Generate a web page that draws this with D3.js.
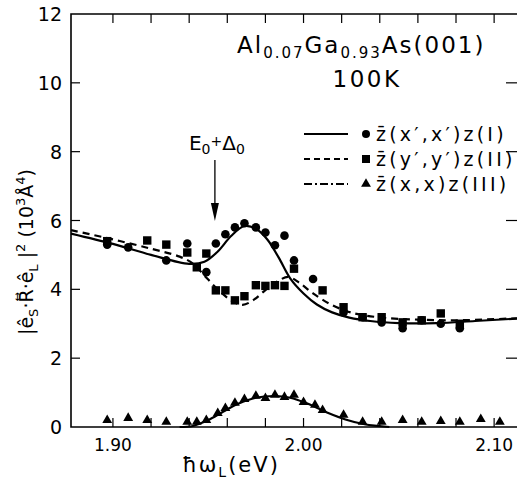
<!DOCTYPE html>
<html>
<head>
<script src="https://d3js.org/d3.v7.min.js"></script>
<style>
  body { margin: 0; background: #fff; }
  text { font-family: "DejaVu Sans", sans-serif; fill: #000; }
</style>
</head>
<body>
<svg width="517" height="481" id="chart"></svg>
<script>
// photon energy (eV) / intensity (10^3 A^4)
var fitI = [[1.878,5.62],[1.90,5.32],[1.92,5.0],[1.94,4.74],[1.948,4.8],[1.955,5.1],[1.962,5.55],[1.969,5.84],[1.975,5.76],[1.981,5.45],[1.987,4.92],[1.993,4.32],[2.000,3.88],[2.007,3.56],[2.015,3.33],[2.024,3.18],[2.035,3.08],[2.05,3.02],[2.07,3.02],[2.09,3.08],[2.112,3.15]]
var fitII = [[1.878,5.72],[1.90,5.45],[1.92,5.18],[1.935,4.95],[1.942,4.75],[1.948,4.4],[1.955,4.0],[1.962,3.68],[1.968,3.55],[1.974,3.7],[1.98,3.98],[1.986,4.22],[1.992,4.36],[1.998,4.18],[2.005,3.88],[2.014,3.57],[2.022,3.38],[2.03,3.26],[2.045,3.16],[2.06,3.12],[2.08,3.1],[2.112,3.16]]
var fitIII = [[1.935,0],[1.942,0.03],[1.95,0.2],[1.958,0.45],[1.966,0.68],[1.975,0.85],[1.985,0.9],[1.993,0.85],[2.002,0.68],[2.012,0.43],[2.022,0.22],[2.032,0.08],[2.045,0]]

var ptsI = [[1.897,5.3],[1.908,5.22],[1.928,4.84],[1.939,5.33],[1.949,4.5],[1.954,5.33],[1.959,5.6],[1.964,5.8],[1.969,5.92],[1.975,5.8],[1.980,5.65],[1.985,5.28],[1.990,5.56],[1.995,4.84],[2.005,4.3],[2.021,3.33],[2.031,3.19],[2.041,3.04],[2.052,2.87],[2.062,3.1],[2.072,3.0],[2.082,2.87]]
var ptsII = [[1.897,5.4],[1.918,5.42],[1.928,5.3],[1.939,5.07],[1.944,4.64],[1.949,5.04],[1.954,3.97],[1.959,3.97],[1.964,3.68],[1.969,3.8],[1.975,4.12],[1.980,4.1],[1.985,4.12],[1.990,4.1],[1.995,4.6],[2.010,3.97],[2.021,3.48],[2.031,3.19],[2.041,3.19],[2.052,3.04],[2.062,3.1],[2.072,3.3],[2.082,3.0]]
var ptsIII = [[1.897,0.2],[1.908,0.26],[1.918,0.2],[1.928,0.15],[1.939,0.15],[1.944,0.15],[1.949,0.2],[1.955,0.4],[1.959,0.55],[1.964,0.7],[1.969,0.81],[1.975,0.9],[1.980,0.84],[1.985,0.93],[1.990,0.87],[1.995,0.93],[2.000,0.72],[2.006,0.64],[2.010,0.49],[2.021,0.35],[2.031,0.15],[2.041,0.15],[2.052,0.2],[2.062,0.15],[2.072,0.17],[2.082,0.15],[2.093,0.23],[2.103,0.15]]

var xTicks = [1.90,1.92,1.94,1.96,1.98,2.00,2.02,2.04,2.06,2.08,2.10]
var xLabels = [1.90,2.00,2.10]
var yTicks = [0,2,4,6,8,10,12]

var svg = d3.select("#chart")
var x = d3.scaleLinear().domain([1.878, 2.112]).range([71, 517])
var y = d3.scaleLinear().domain([0, 12]).range([427, 14])

// frame
svg.append("path").attr("fill","none").attr("stroke","#000").attr("stroke-width",1.6)
  .attr("d", "M517," + y(12) + "H" + x(1.878) + "V" + y(0) + "H517")

// ticks
svg.selectAll(".xtb").data(xTicks).enter().append("line")
  .attr("x1", x).attr("x2", x).attr("y1", y(0)).attr("y2", y(0) - 9)
  .attr("stroke","#000").attr("stroke-width",1.2)
svg.selectAll(".xtt").data(xTicks).enter().append("line")
  .attr("x1", x).attr("x2", x).attr("y1", y(12)).attr("y2", y(12) + 9)
  .attr("stroke","#000").attr("stroke-width",1.2)
svg.selectAll(".ytl").data(yTicks.slice(1,-1)).enter().append("line")
  .attr("x1", 71).attr("x2", 80).attr("y1", y).attr("y2", y)
  .attr("stroke","#000").attr("stroke-width",1.2)
svg.selectAll(".ytr").data(yTicks.slice(1,-1)).enter().append("line")
  .attr("x1", 506).attr("x2", 517).attr("y1", y).attr("y2", y)
  .attr("stroke","#000").attr("stroke-width",1.2)

// tick labels
svg.selectAll(".yl").data(yTicks).enter().append("text")
  .attr("x", 62).attr("y", function(d){ return y(d) + 7 })
  .attr("text-anchor","end").attr("font-size", 19).text(function(d){ return d })
svg.selectAll(".xl").data(xLabels).enter().append("text")
  .attr("x", x).attr("y", 451)
  .attr("text-anchor","middle").attr("font-size", 17).text(function(d){ return d.toFixed(2) })

// curves
var line = d3.line().x(function(d){ return x(d[0]) }).y(function(d){ return y(d[1]) }).curve(d3.curveCatmullRom)
svg.append("path").datum(fitI).attr("fill","none").attr("stroke","#000").attr("stroke-width",2.2).attr("d", line)
svg.append("path").datum(fitII).attr("fill","none").attr("stroke","#000").attr("stroke-width",2.2)
  .attr("stroke-dasharray","7,5").attr("d", line)
svg.append("path").datum(fitIII).attr("fill","none").attr("stroke","#000").attr("stroke-width",2.2).attr("d", line)

// markers
svg.selectAll(".pI").data(ptsI).enter().append("circle")
  .attr("cx", function(d){ return x(d[0]) }).attr("cy", function(d){ return y(d[1]) }).attr("r", 4.3)
svg.selectAll(".pII").data(ptsII).enter().append("rect")
  .attr("x", function(d){ return x(d[0]) - 4.2 }).attr("y", function(d){ return y(d[1]) - 4.2 })
  .attr("width", 8.4).attr("height", 8.4)
var tri = d3.symbol().type(d3.symbolTriangle).size(42)
svg.selectAll(".pIII").data(ptsIII).enter().append("path")
  .attr("transform", function(d){ return "translate(" + x(d[0]) + "," + y(d[1]) + ")" }).attr("d", tri)

// title
var t1 = svg.append("text").attr("x", 237).attr("y", 53).attr("font-size", 23).attr("letter-spacing", 2)
t1.append("tspan").text("Al")
t1.append("tspan").attr("font-size", 15).attr("dy", 5).text("0.07")
t1.append("tspan").attr("dy", -5).text("Ga")
t1.append("tspan").attr("font-size", 15).attr("dy", 5).text("0.93")
t1.append("tspan").attr("dy", -5).text("As(001)")
svg.append("text").attr("x", 367).attr("y", 87).attr("font-size", 23).attr("letter-spacing", 2.5)
  .attr("text-anchor","middle").text("100K")

// E0 + Delta0 marker
var ex = x(1.9535)
var t2 = svg.append("text").attr("x", ex + 2).attr("y", 150).attr("font-size", 20).attr("text-anchor","middle")
t2.append("tspan").text("E")
t2.append("tspan").attr("font-size", 14).attr("dy", 4).text("0")
t2.append("tspan").attr("font-size", 14).attr("dy", -8).text("+")
t2.append("tspan").attr("dy", 4).text("Δ")
t2.append("tspan").attr("font-size", 14).attr("dy", 4).text("0")
svg.append("line").attr("x1", ex).attr("x2", ex).attr("y1", 160).attr("y2", 206).attr("stroke","#000").attr("stroke-width",1.3)
svg.append("path").attr("d", "M" + (ex - 4) + ",203L" + (ex + 4) + ",203L" + ex + ",221Z")

// legend
var legend = [
  {dash: null, sym: "circle", pre: "(x′,x′)z(I)", ly: 134},
  {dash: "6,4", sym: "square", pre: "(y′,y′)z(II)", ly: 159},
  {dash: "8,3,2,3", sym: "triangle", pre: "(x,x)z(III)", ly: 184}
]
legend.forEach(function(l){
  svg.append("line").attr("x1", 304).attr("x2", 348).attr("y1", l.ly).attr("y2", l.ly)
    .attr("stroke","#000").attr("stroke-width",1.8).attr("stroke-dasharray", l.dash)
  if (l.sym == "circle") svg.append("circle").attr("cx", 366).attr("cy", l.ly).attr("r", 4)
  else if (l.sym == "square") svg.append("rect").attr("x", 362).attr("y", l.ly - 4).attr("width", 8).attr("height", 8)
  else svg.append("path").attr("transform","translate(366," + l.ly + ")").attr("d", tri)
  svg.append("text").attr("x", 376).attr("y", l.ly + 7).attr("font-size", 19).attr("letter-spacing", 3.2)
    .text("z̄" + l.pre)
})

// axis titles
var xt = svg.append("text").attr("x", 231).attr("y", 472).attr("font-size", 21).attr("letter-spacing", 2)
  .attr("text-anchor","middle")
xt.append("tspan").text("ħω")
xt.append("tspan").attr("font-size", 14).attr("dy", 5).text("L")
xt.append("tspan").attr("dy", -5).text("(eV)")

var yt = svg.append("text").attr("transform","translate(33,252) rotate(-90)").attr("font-size", 19).attr("text-anchor","middle")
yt.append("tspan").text("|ê")
yt.append("tspan").attr("font-size", 13).attr("dy", 5).text("S")
yt.append("tspan").attr("dy", -5).text("·R⃡·ê")
yt.append("tspan").attr("font-size", 13).attr("dy", 5).text("L")
yt.append("tspan").attr("dy", -5).text(" |")
yt.append("tspan").attr("font-size", 13).attr("dy", -8).text("2")
yt.append("tspan").attr("dy", 8).text(" (10")
yt.append("tspan").attr("font-size", 13).attr("dy", -8).text("3")
yt.append("tspan").attr("dy", 8).text("Å")
yt.append("tspan").attr("font-size", 13).attr("dy", -8).text("4")
yt.append("tspan").attr("dy", 8).text(")")
</script>
</body>
</html>
